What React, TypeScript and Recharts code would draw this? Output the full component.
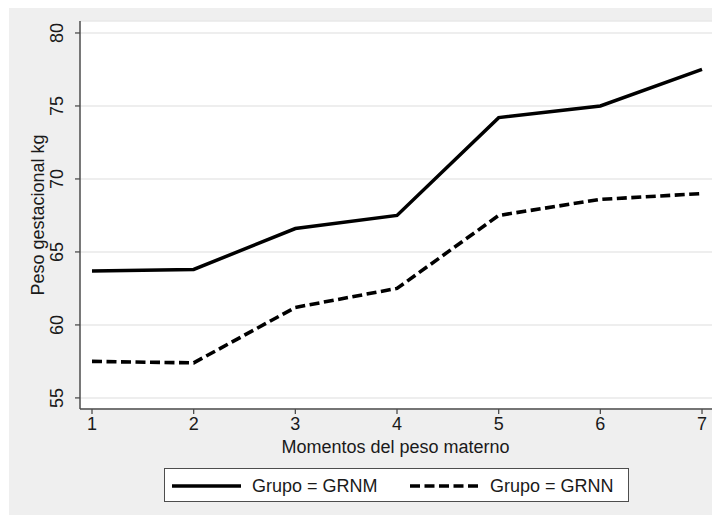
import { CartesianGrid, Label, Line, LineChart, XAxis, YAxis } from "recharts";

const momentos = [1, 2, 3, 4, 5, 6, 7];
const grnm = [63.7, 63.8, 66.6, 67.5, 74.2, 75.0, 77.5];
const grnn = [57.5, 57.4, 61.2, 62.5, 67.5, 68.6, 69.0];
const yTicks = [55, 60, 65, 70, 75, 80];

const data = momentos.map((m, i) => ({ x: m, grnm: grnm[i], grnn: grnn[i] }));

const FONT = '"Liberation Sans", Arial, Helvetica, sans-serif';
const AXIS = "#4d4d4d";
const DASH = "10 4.5";

function YTick(props: any) {
  const { x, y, payload } = props;
  return (
    <text
      transform={`translate(${x},${y}) rotate(-90)`}
      textAnchor="middle"
      dominantBaseline="central"
      fontSize={18}
      fill="#1a1a1a"
      fontFamily={FONT}
    >
      {payload.value}
    </text>
  );
}

function XTick(props: any) {
  const { x, y, payload } = props;
  return (
    <text x={x} y={y + 8} textAnchor="middle" dominantBaseline="central" fontSize={18} fill="#1a1a1a" fontFamily={FONT}>
      {payload.value}
    </text>
  );
}

export default function App() {
  return (
    <div style={{ position: "relative", width: 720, height: 523, margin: -8, background: "#fff", fontFamily: FONT }}>
      <div style={{ position: "absolute", left: 9, top: 3, right: 0, bottom: 0, background: "#efefef" }} />
      <div style={{ position: "absolute", left: 0, top: 0 }}>
        <LineChart width={720} height={523} data={data} margin={{ top: 21, right: 7, bottom: 0, left: 0 }}>
          <CartesianGrid vertical={false} stroke="#e9e9e9" strokeWidth={1.5} fill="#fff" />
          <XAxis
            dataKey="x"
            type="number"
            domain={[0.882, 7.108]}
            ticks={momentos}
            allowDataOverflow
            height={114}
            tickSize={5}
            tickLine={{ stroke: AXIS, strokeWidth: 1.3 }}
            axisLine={{ stroke: AXIS, strokeWidth: 1.5 }}
            tick={<XTick />}
          >
            <Label
              content={({ viewBox }: any) => (
                <text
                  x={viewBox.x + viewBox.width / 2 - 1}
                  y={447}
                  textAnchor="middle"
                  dominantBaseline="central"
                  fontSize={18}
                  fill="#1a1a1a"
                  fontFamily={FONT}
                >
                  Momentos del peso materno
                </text>
              )}
            />
          </XAxis>
          <YAxis
            type="number"
            domain={[54.24, 80.82]}
            ticks={yTicks}
            allowDataOverflow
            width={80}
            tickSize={5}
            tickMargin={18}
            tickLine={{ stroke: AXIS, strokeWidth: 1.3 }}
            axisLine={{ stroke: AXIS, strokeWidth: 1.5 }}
            tick={<YTick />}
          >
            <Label
              content={({ viewBox }: any) => (
                <text
                  transform={`translate(38,${viewBox.y + viewBox.height / 2}) rotate(-90)`}
                  textAnchor="middle"
                  dominantBaseline="central"
                  fontSize={18}
                  fill="#1a1a1a"
                  fontFamily={FONT}
                >
                  Peso gestacional kg
                </text>
              )}
            />
          </YAxis>
          <Line
            type="linear"
            dataKey="grnm"
            stroke="#000"
            strokeWidth={3.5}
            dot={false}
            isAnimationActive={false}
          />
          <Line
            type="linear"
            dataKey="grnn"
            stroke="#000"
            strokeWidth={3.6}
            strokeDasharray={DASH}
            dot={false}
            isAnimationActive={false}
          />
        </LineChart>
      </div>
      <div
        style={{
          position: "absolute",
          left: 164,
          top: 468,
          width: 465,
          height: 34,
          boxSizing: "border-box",
          background: "#fff",
          border: `1px solid ${AXIS}`,
        }}
      >
        <svg width={463} height={32} style={{ position: "absolute", left: 0, top: 0 }}>
          <line x1={7} y1={17} x2={76} y2={17} stroke="#000" strokeWidth={3.5} />
          <text x={87} y={17} dominantBaseline="central" fontSize={18} fill="#1a1a1a" fontFamily={FONT}>
            Grupo = GRNM
          </text>
          <line x1={245} y1={17} x2={314} y2={17} stroke="#000" strokeWidth={3.6} strokeDasharray={DASH} />
          <text x={325} y={17} dominantBaseline="central" fontSize={18} fill="#1a1a1a" fontFamily={FONT}>
            Grupo = GRNN
          </text>
        </svg>
      </div>
    </div>
  );
}
